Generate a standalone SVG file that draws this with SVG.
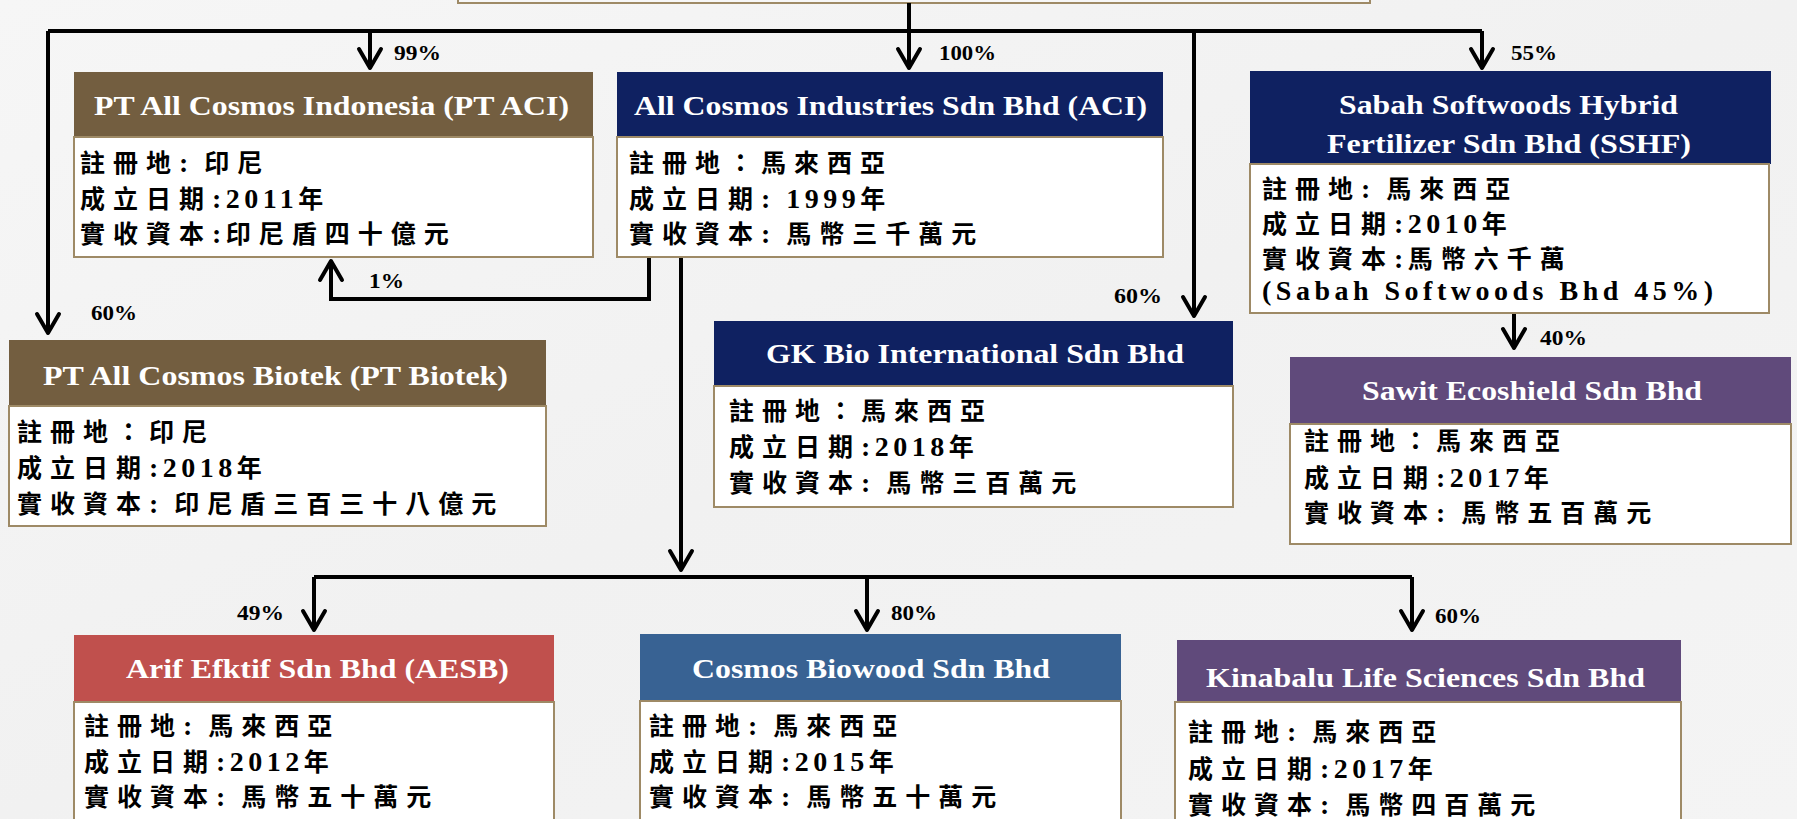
<svg xmlns="http://www.w3.org/2000/svg" width="1797" height="819" viewBox="0 0 1797 819">
<defs>
<linearGradient id="bg" x1="0" y1="0" x2="1" y2="1">
<stop offset="0" stop-color="#f6f6f6"/>
<stop offset="0.5" stop-color="#f1f1f1"/>
<stop offset="1" stop-color="#f4f4f4"/>
</linearGradient>
<marker id="ah" markerUnits="userSpaceOnUse" viewBox="-24 -15 28 30" refX="0" refY="0" markerWidth="28" markerHeight="30" orient="auto">
<path d="M-19,-11 L0,0 L-19,11" fill="none" stroke="#000" stroke-width="4" stroke-linejoin="round" stroke-linecap="round"/>
</marker>
<style>
.hdr{font-family:"Liberation Serif","Times New Roman",serif;font-weight:bold;font-size:28px;fill:#fff}
.body{font-family:"Liberation Serif","Noto Sans CJK TC",serif;font-weight:bold;font-size:25px;letter-spacing:8px;fill:#000}
.l{font-size:28px;letter-spacing:4.5px}
.pct{font-family:"Liberation Serif","Times New Roman",serif;font-weight:bold;font-size:20px;fill:#000}
.box{fill:#ffffff;stroke:#9e8a66;stroke-width:2}
.brown{fill:#735e40}
.navy{fill:#0f2161}
.red{fill:#c0504d}
.blue{fill:#386293}
.purple{fill:#604a7b}
.conn{fill:none;stroke:#000;stroke-width:4}
</style>
</defs>
<rect x="0" y="0" width="1797" height="819" fill="url(#bg)"/>

<g id="parent">
<rect x="458" y="-10" width="912" height="13" fill="#f7f7f7" stroke="#9e8a66" stroke-width="2"/>
</g>

<g id="connectors">
<path class="conn" d="M909,3 V31"/>
<path class="conn" d="M48,31 H1482"/>
<path class="conn" d="M48,31 V333" marker-end="url(#ah)"/>
<path class="conn" d="M370,31 V68" marker-end="url(#ah)"/>
<path class="conn" d="M909,31 V68" marker-end="url(#ah)"/>
<path class="conn" d="M1194,31 V316" marker-end="url(#ah)"/>
<path class="conn" d="M1482,31 V68" marker-end="url(#ah)"/>
<path class="conn" d="M1514,313 V348" marker-end="url(#ah)"/>
<path class="conn" d="M649,257 V299 H331 V261" marker-end="url(#ah)"/>
<path class="conn" d="M681,257 V570" marker-end="url(#ah)"/>
<path class="conn" d="M314,577 H1412"/>
<path class="conn" d="M314,577 V630" marker-end="url(#ah)"/>
<path class="conn" d="M867,577 V630" marker-end="url(#ah)"/>
<path class="conn" d="M1412,577 V630" marker-end="url(#ah)"/>
<text class="pct" x="394" y="60" textLength="47" lengthAdjust="spacingAndGlyphs">99%</text>
<text class="pct" x="939" y="60" textLength="57" lengthAdjust="spacingAndGlyphs">100%</text>
<text class="pct" x="1511" y="60" textLength="46" lengthAdjust="spacingAndGlyphs">55%</text>
<text class="pct" x="91" y="320" textLength="46" lengthAdjust="spacingAndGlyphs">60%</text>
<text class="pct" x="369" y="288" textLength="35" lengthAdjust="spacingAndGlyphs">1%</text>
<text class="pct" x="1114" y="303" textLength="48" lengthAdjust="spacingAndGlyphs">60%</text>
<text class="pct" x="1540" y="345" textLength="47" lengthAdjust="spacingAndGlyphs">40%</text>
<text class="pct" x="237" y="620" textLength="47" lengthAdjust="spacingAndGlyphs">49%</text>
<text class="pct" x="891" y="620" textLength="46" lengthAdjust="spacingAndGlyphs">80%</text>
<text class="pct" x="1435" y="623" textLength="46" lengthAdjust="spacingAndGlyphs">60%</text>
</g>

<g id="pt-aci">
<rect class="brown" x="74" y="72" width="519" height="65"/>
<rect class="box" x="74" y="137" width="519" height="120"/>
<text class="hdr" x="94" y="115" textLength="475" lengthAdjust="spacingAndGlyphs">PT All Cosmos Indonesia (PT ACI)</text>
<text class="body" x="80" y="172">註冊地<tspan class="l">: </tspan>印尼</text>
<text class="body" x="80" y="208">成立日期<tspan class="l">:2011</tspan>年</text>
<text class="body" x="80" y="243">實收資本<tspan class="l">:</tspan>印尼盾四十億元</text>
</g>

<g id="aci">
<rect class="navy" x="617" y="72" width="546" height="65"/>
<rect class="box" x="617" y="137" width="546" height="120"/>
<text class="hdr" x="634" y="115" textLength="513" lengthAdjust="spacingAndGlyphs">All Cosmos Industries Sdn Bhd (ACI)</text>
<text class="body" x="629" y="172">註冊地：馬來西亞</text>
<text class="body" x="629" y="208">成立日期<tspan class="l">: 1999</tspan>年</text>
<text class="body" x="629" y="243">實收資本<tspan class="l">: </tspan>馬幣三千萬元</text>
</g>

<g id="sshf">
<rect class="navy" x="1250" y="71" width="521" height="93"/>
<rect class="box" x="1250" y="164" width="519" height="149"/>
<text class="hdr" x="1339" y="114" textLength="339" lengthAdjust="spacingAndGlyphs">Sabah Softwoods Hybrid</text>
<text class="hdr" x="1327" y="153" textLength="364" lengthAdjust="spacingAndGlyphs">Fertilizer Sdn Bhd (SSHF)</text>
<text class="body" x="1262" y="198">註冊地<tspan class="l">: </tspan>馬來西亞</text>
<text class="body" x="1262" y="233">成立日期<tspan class="l">:2010</tspan>年</text>
<text class="body" x="1262" y="268">實收資本<tspan class="l">:</tspan>馬幣六千萬</text>
<text class="body" x="1262" y="300"><tspan class="l">(Sabah Softwoods Bhd 45%)</tspan></text>
</g>

<g id="pt-biotek">
<rect class="brown" x="9" y="340" width="537" height="66"/>
<rect class="box" x="9" y="406" width="537" height="120"/>
<text class="hdr" x="43" y="385" textLength="465" lengthAdjust="spacingAndGlyphs">PT All Cosmos Biotek (PT Biotek)</text>
<text class="body" x="17" y="441">註冊地：印尼</text>
<text class="body" x="17" y="477">成立日期<tspan class="l">:2018</tspan>年</text>
<text class="body" x="17" y="513">實收資本<tspan class="l">: </tspan>印尼盾三百三十八億元</text>
</g>

<g id="gk-bio">
<rect class="navy" x="714" y="321" width="519" height="65"/>
<rect class="box" x="714" y="386" width="519" height="121"/>
<text class="hdr" x="766" y="363" textLength="418" lengthAdjust="spacingAndGlyphs">GK Bio International Sdn Bhd</text>
<text class="body" x="729" y="420">註冊地：馬來西亞</text>
<text class="body" x="729" y="456">成立日期<tspan class="l">:2018</tspan>年</text>
<text class="body" x="729" y="492">實收資本<tspan class="l">: </tspan>馬幣三百萬元</text>
</g>

<g id="sawit">
<rect class="purple" x="1290" y="357" width="501" height="67"/>
<rect class="box" x="1290" y="424" width="501" height="120"/>
<text class="hdr" x="1362" y="400" textLength="340" lengthAdjust="spacingAndGlyphs">Sawit Ecoshield Sdn Bhd</text>
<text class="body" x="1304" y="450">註冊地：馬來西亞</text>
<text class="body" x="1304" y="487">成立日期<tspan class="l">:2017</tspan>年</text>
<text class="body" x="1304" y="522">實收資本<tspan class="l">: </tspan>馬幣五百萬元</text>
</g>

<g id="aesb">
<rect class="red" x="74" y="635" width="480" height="67"/>
<rect class="box" x="74" y="702" width="480" height="140"/>
<text class="hdr" x="126" y="678" textLength="383" lengthAdjust="spacingAndGlyphs">Arif Efktif Sdn Bhd (AESB)</text>
<text class="body" x="84" y="735">註冊地<tspan class="l">: </tspan>馬來西亞</text>
<text class="body" x="84" y="771">成立日期<tspan class="l">:2012</tspan>年</text>
<text class="body" x="84" y="806">實收資本<tspan class="l">: </tspan>馬幣五十萬元</text>
</g>

<g id="biowood">
<rect class="blue" x="640" y="634" width="481" height="67"/>
<rect class="box" x="640" y="701" width="481" height="140"/>
<text class="hdr" x="692" y="678" textLength="358" lengthAdjust="spacingAndGlyphs">Cosmos Biowood Sdn Bhd</text>
<text class="body" x="649" y="735">註冊地<tspan class="l">: </tspan>馬來西亞</text>
<text class="body" x="649" y="771">成立日期<tspan class="l">:2015</tspan>年</text>
<text class="body" x="649" y="806">實收資本<tspan class="l">: </tspan>馬幣五十萬元</text>
</g>

<g id="kinabalu">
<rect class="purple" x="1177" y="640" width="504" height="62"/>
<rect class="box" x="1175" y="702" width="506" height="140"/>
<text class="hdr" x="1206" y="687" textLength="439" lengthAdjust="spacingAndGlyphs">Kinabalu Life Sciences Sdn Bhd</text>
<text class="body" x="1188" y="741">註冊地<tspan class="l">: </tspan>馬來西亞</text>
<text class="body" x="1188" y="778">成立日期<tspan class="l">:2017</tspan>年</text>
<text class="body" x="1188" y="814">實收資本<tspan class="l">: </tspan>馬幣四百萬元</text>
</g>
</svg>
